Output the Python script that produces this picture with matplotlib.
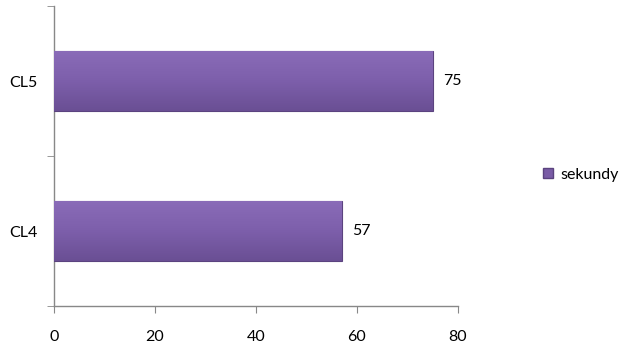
import numpy as np
import matplotlib
matplotlib.use("Agg")
import matplotlib.pyplot as plt
from matplotlib.patches import Patch

categories = ["CL4", "CL5"]
values = [57, 75]
series_name = "sekundy"
xticks = [0, 20, 40, 60, 80]

plt.rcParams["font.family"] = ["Lato", "DejaVu Sans"]

fig = plt.figure(figsize=(6.26, 3.45), dpi=100)
ax = fig.add_axes([0.0863, 0.113, 0.6453, 0.8696])

y = np.arange(len(categories))
bars = ax.barh(y, values, height=0.4, color="#7a5ca6", edgecolor="#5b437f",
               linewidth=0.8, zorder=3)

# vertical gradient inside each bar
grad = np.linspace(0, 1, 100).reshape(-1, 1)
cmap = matplotlib.colors.LinearSegmentedColormap.from_list(
    "bar", ["#6a4f94", "#7d5fab", "#8a6cb8"])
for b in bars:
    x0, y0 = b.get_x(), b.get_y()
    w, h = b.get_width(), b.get_height()
    im = ax.imshow(grad, cmap=cmap, aspect="auto", extent=[x0, x0 + w, y0, y0 + h],
                   origin="lower", zorder=3.5)
    im.set_clip_path(b)
    ax.text(w + 2, y0 + h / 2, f"{w:g}", va="center", ha="left", fontsize=11.5, zorder=4)

ax.set_xlim(0, 80)
ax.set_ylim(-0.5, len(categories) - 0.5)
ax.set_xticks(xticks)
ax.set_yticks(y)
ax.set_yticklabels(categories, fontsize=11.5)
ax.set_xticklabels([str(t) for t in xticks], fontsize=11.5)
ax.set_yticks(np.arange(-0.5, len(categories)), minor=True)
ax.tick_params(axis="y", which="major", length=0, pad=12)
ax.tick_params(axis="y", which="minor", length=5, color="#888888", direction="out")
ax.tick_params(axis="x", length=5, color="#888888", direction="out", pad=12)

for s in ["top", "right"]:
    ax.spines[s].set_visible(False)
for s in ["left", "bottom"]:
    ax.spines[s].set_color("#888888")
    ax.spines[s].set_linewidth(1)

ax.legend(handles=[Patch(facecolor="#7a5ca6", edgecolor="#5b437f", label=series_name)],
          loc="center left", bbox_to_anchor=(1.175, 0.437), frameon=False,
          fontsize=11.5, handlelength=0.6, handleheight=0.6, handletextpad=0.5)

fig.savefig("out.png", dpi=100)
